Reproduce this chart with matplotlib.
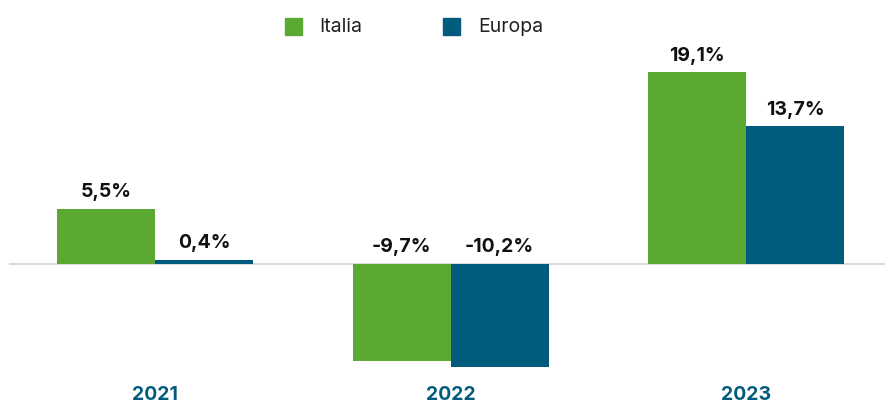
import matplotlib
matplotlib.use("Agg")
import matplotlib.pyplot as plt
import matplotlib.transforms as mtransforms
import numpy as np

# data
years = ["2021", "2022", "2023"]
italia = [5.5, -9.7, 19.1]
europa = [0.4, -10.2, 13.7]
labels_italia = ["5,5%", "-9,7%", "19,1%"]
labels_europa = ["0,4%", "-10,2%", "13,7%"]

GREEN = "#5BA833"
TEAL = "#005B7C"
FONT = ["Inter", "DejaVu Sans"]

W, H = 885, 406
fig = plt.figure(figsize=(W / 100, H / 100), dpi=100)
ax = fig.add_axes([0, 0, 1, 1])
ax.axis("off")

# pixel mapping: group centres at 155/450/746 px, zero line at y=265, 10.05 px per %
px_per_group = 295.5
px_per_pct = 10.05
ax.set_xlim((0 - 155) / px_per_group, (W - 155) / px_per_group)
ax.set_ylim((265 - H) / px_per_pct, 265 / px_per_pct)

x = np.arange(len(years))
w = 98 / px_per_group
ax.bar(x - w / 2, italia, width=w, color=GREEN, zorder=2)
ax.bar(x + w / 2, europa, width=w, color=TEAL, zorder=2)

# zero line
ax.plot([(9 - 155) / px_per_group, (W - 155) / px_per_group], [0, 0],
        color="#d9d9d9", lw=1.4, zorder=1, solid_capstyle="butt")

# value labels
for xs, vals, labs in ((x - w / 2, italia, labels_italia), (x + w / 2, europa, labels_europa)):
    for xi, v, lab in zip(xs, vals, labs):
        ax.annotate(lab, (xi, max(v, 0)), xytext=(0, 9), textcoords="offset points",
                    ha="center", va="baseline", fontsize=14, fontweight="bold",
                    color="#111111", family=FONT)

# year labels
trans = mtransforms.blended_transform_factory(ax.transData, fig.transFigure)
for xi, yr in zip(x, years):
    ax.text(xi, 1 - 395 / H, yr, transform=trans, ha="center", va="center",
            fontsize=14, fontweight="bold", color=TEAL, family=FONT)

# legend
fig.patches.append(plt.Rectangle((285 / W, 1 - 36 / H), 17 / W, 17 / H,
                                 transform=fig.transFigure, color=GREEN))
fig.text(319 / W, 1 - 27 / H, "Italia", ha="left", va="center", fontsize=14,
         color="#222222", family=FONT)
fig.patches.append(plt.Rectangle((443 / W, 1 - 36 / H), 17 / W, 17 / H,
                                 transform=fig.transFigure, color=TEAL))
fig.text(478 / W, 1 - 27 / H, "Europa", ha="left", va="center", fontsize=14,
         color="#222222", family=FONT)

fig.savefig("out.png", dpi=100, facecolor="white")
